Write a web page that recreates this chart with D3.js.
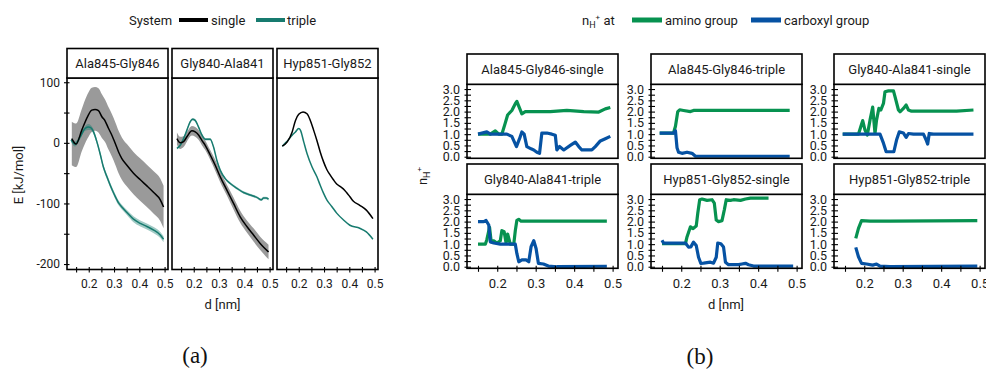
<!DOCTYPE html>
<html>
<head>
<meta charset="utf-8">
<script src="https://cdn.jsdelivr.net/npm/d3@7"></script>
<style>
  html, body { margin: 0; padding: 0; background: #fff; }
  svg { display: block; font-family: Roboto, "Noto Sans", sans-serif; }
</style>
</head>
<body>
<svg id="fig" width="986" height="374"></svg>
<script>
// ---------------- data: (a) interaction energy E [kJ/mol] vs distance d [nm] ----------------
const pairs = ["Ala845-Gly846", "Gly840-Ala841", "Hyp851-Gly852"];
const systems = ["single", "triple"];
const distTicks = [0.15, 0.2, 0.25, 0.3, 0.35, 0.4, 0.45, 0.5];
const energyTicks = [-200, -150, -100, -50, 0, 50, 100];

// Ala845-Gly846, single
const dAlaS  = [0.133, 0.150, 0.1725, 0.195, 0.212, 0.225, 0.2385, 0.252, 0.265, 0.278, 0.291, 0.305, 0.318, 0.331, 0.351, 0.377, 0.404, 0.430, 0.457, 0.483, 0.496];
const eAlaS  = [7, -2, 21, 43, 54, 55, 53, 43, 36, 24, 13, -1, -15, -26, -37, -50, -61, -71, -82, -94, -106];
const loAlaS = [-37, -40, -14, 7, 18, 20, 17, 8, 1, -11, -22, -36, -50, -61, -72, -85, -96, -106, -117, -129, -141];
const hiAlaS = [35, 32, 56, 80, 91, 92, 90, 80, 71, 59, 48, 34, 20, 9, -2, -15, -26, -36, -47, -59, -71];
// Ala845-Gly846, triple
const dAlaT  = [0.130, 0.146, 0.166, 0.186, 0.199, 0.208, 0.219, 0.232, 0.245, 0.258, 0.272, 0.285, 0.302, 0.318, 0.331, 0.351, 0.377, 0.404, 0.430, 0.457, 0.483, 0.496];
const eAlaT  = [5, -2, 10, 24, 26, 25, 18, 2, -18, -40, -56, -70, -86, -99, -106, -115, -126, -133, -138, -144, -152, -159];
const loAlaT = [1, -6, 6, 20, 21, 21, 14, -2, -22, -44, -60, -74, -90, -103, -110, -119, -131, -138, -143, -149, -157, -164];
const hiAlaT = [8, 2, 13, 28, 31, 29, 22, 6, -14, -36, -52, -66, -82, -95, -102, -111, -121, -128, -133, -139, -147, -154];
// Gly840-Ala841, single
const dGlyS  = [0.1335, 0.1466, 0.1598, 0.173, 0.1928, 0.2059, 0.2191, 0.2323, 0.2455, 0.2652, 0.285, 0.3047, 0.3311, 0.3574, 0.3838, 0.4101, 0.4365, 0.4629, 0.4958];
const eGlyS  = [7, 0, 2, 10, 20, 18, 13, 4, -4, -20, -37, -56, -78, -100, -122, -138, -152, -166, -180];
const loGlyS = [-3, -10, -7, 2, 12, 10, 5, -4, -12, -28, -46, -65, -87, -110, -132, -148, -163, -177, -192];
const hiGlyS = [17, 10, 11, 18, 28, 26, 21, 12, 4, -12, -28, -47, -69, -90, -112, -128, -141, -155, -168];
// Gly840-Ala841, triple
const dGlyT  = [0.1335, 0.1466, 0.1598, 0.173, 0.1862, 0.1954, 0.2059, 0.2191, 0.2323, 0.2455, 0.2652, 0.2784, 0.2916, 0.3047, 0.3245, 0.3443, 0.3706, 0.397, 0.4233, 0.4497, 0.4668, 0.476, 0.4866, 0.4958];
const eGlyT  = [-9, -4, 7, 21, 35, 39, 37, 26, 13, 6, 6, -7, -29, -45, -59, -67, -75, -82, -86, -90, -94, -91, -91, -93];
const loGlyT = [-11, -6, 5, 19, 33, 37, 35, 24, 11, 4, 4, -9, -31, -47, -61, -69, -77, -84, -88, -92, -96, -93, -93, -95];
const hiGlyT = [-7, -2, 9, 23, 37, 41, 39, 28, 15, 8, 8, -5, -27, -43, -57, -65, -73, -80, -84, -88, -92, -89, -89, -91];
// Hyp851-Gly852, single
const dHypS  = [0.135, 0.1545, 0.174, 0.1871, 0.2, 0.2171, 0.2327, 0.2458, 0.2588, 0.2718, 0.2849, 0.2979, 0.311, 0.324, 0.3371, 0.3501, 0.3632, 0.3762, 0.3892, 0.4023, 0.4153, 0.4413, 0.4674, 0.4935];
const eHypS  = [-5.5, 1.6, 18, 37, 47, 51, 48, 37, 21, 4, -15, -31, -44, -53, -61, -68, -72, -76, -82, -89, -96, -103, -111, -125];
// Hyp851-Gly852, triple
const dHypT  = [0.135, 0.1519, 0.174, 0.1871, 0.2, 0.2066, 0.2197, 0.2327, 0.2523, 0.2718, 0.2849, 0.2979, 0.311, 0.3306, 0.3501, 0.3762, 0.4023, 0.4413, 0.4674, 0.4935];
const eHypT  = [-5.5, 1.6, 12.6, 18, 23.6, 21, 1.6, -17.6, -39.5, -56, -70, -83, -94, -105, -116, -127, -136, -141, -147, -159];

// ---------------- data: (b) protons n_H+ at amino / carboxyl group ----------------
const protonTicks = [0, 0.25, 0.5, 0.75, 1, 1.25, 1.5, 1.75, 2, 2.25, 2.5, 2.75, 3];
const protonPanels = ["Ala845-Gly846-single", "Ala845-Gly846-triple", "Gly840-Ala841-single",
                      "Gly840-Ala841-triple", "Hyp851-Gly852-single", "Hyp851-Gly852-triple"];

const dAlaSAmino = [0.15, 0.182, 0.195, 0.204, 0.212, 0.221, 0.227, 0.238, 0.247, 0.251, 0.258, 0.264, 0.273, 0.295, 0.338, 0.381, 0.425, 0.464, 0.481, 0.494];
const nAlaSAmino = [1.0, 1.0, 1.15, 1.0, 1.0, 1.5, 1.85, 2.05, 2.35, 2.45, 2.15, 1.9, 2.0, 2.0, 2.0, 2.05, 2.0, 1.98, 2.12, 2.18];
const dAlaSCarb  = [0.15, 0.173, 0.182, 0.225, 0.238, 0.25, 0.258, 0.264, 0.27, 0.277, 0.288, 0.295, 0.303, 0.31, 0.316, 0.329, 0.342, 0.351, 0.355, 0.362, 0.373, 0.39, 0.403, 0.412, 0.42, 0.433, 0.446, 0.455, 0.468, 0.481, 0.494];
const nAlaSCarb  = [1.0, 1.1, 1.0, 1.0, 0.9, 0.45, 0.8, 1.1, 1.0, 0.45, 0.35, 0.3, 0.2, 0.15, 1.05, 1.05, 1.0, 0.95, 0.3, 0.45, 0.3, 0.5, 0.65, 0.45, 0.3, 0.3, 0.3, 0.45, 0.7, 0.8, 0.9];

const dAlaTAmino = [0.144, 0.18, 0.185, 0.191, 0.196, 0.206, 0.224, 0.232, 0.241, 0.482];
const nAlaTAmino = [1.05, 1.05, 1.35, 2.0, 2.08, 2.05, 2.0, 2.05, 2.05, 2.05];
const dAlaTCarb  = [0.144, 0.18, 0.185, 0.189, 0.193, 0.202, 0.215, 0.228, 0.237, 0.276, 0.482];
const nAlaTCarb  = [1.05, 1.05, 1.15, 0.4, 0.2, 0.15, 0.2, 0.15, 0.02, 0.02, 0.02];

const dGlySAmino = [0.144, 0.185, 0.191, 0.196, 0.202, 0.208, 0.215, 0.222, 0.228, 0.232, 0.238, 0.243, 0.25, 0.254, 0.263, 0.276, 0.28, 0.289, 0.293, 0.302, 0.309, 0.315, 0.323, 0.354, 0.44, 0.484];
const nGlySAmino = [1.0, 1.0, 1.33, 1.6, 1.18, 0.96, 1.62, 2.2, 1.03, 1.62, 2.14, 2.07, 2.36, 2.88, 2.92, 2.92, 2.66, 2.07, 1.99, 2.14, 2.29, 2.07, 2.02, 2.02, 2.02, 2.07];
const dGlySCarb  = [0.144, 0.241, 0.25, 0.257, 0.277, 0.284, 0.291, 0.302, 0.309, 0.315, 0.328, 0.354, 0.361, 0.365, 0.369, 0.38, 0.484];
const nGlySCarb  = [1.0, 1.0, 0.6, 0.22, 0.22, 0.74, 1.1, 1.05, 0.86, 1.03, 1.0, 1.0, 0.74, 0.56, 1.03, 1.0, 1.0];

const dGlyTAmino = [0.15, 0.169, 0.173, 0.18, 0.184, 0.191, 0.199, 0.208, 0.212, 0.218, 0.223, 0.227, 0.234, 0.243, 0.247, 0.251, 0.256, 0.262, 0.485];
const nGlyTAmino = [1.0, 1.0, 1.2, 1.75, 1.15, 1.15, 1.05, 1.15, 1.6, 1.55, 1.05, 1.45, 1.0, 1.0, 1.6, 2.05, 2.1, 2.02, 2.02];
const dGlyTCarb  = [0.15, 0.165, 0.171, 0.178, 0.182, 0.191, 0.208, 0.243, 0.247, 0.251, 0.256, 0.264, 0.275, 0.282, 0.288, 0.295, 0.301, 0.307, 0.32, 0.333, 0.355, 0.485];
const nGlyTCarb  = [2.0, 2.0, 2.05, 1.85, 1.1, 1.05, 1.0, 1.0, 1.0, 0.59, 0.22, 0.3, 0.3, 0.22, 0.89, 1.15, 0.81, 0.15, 0.12, 0.03, 0.0, 0.02];

const dHypSAmino = [0.15, 0.172, 0.211, 0.215, 0.224, 0.231, 0.239, 0.243, 0.248, 0.254, 0.267, 0.28, 0.286, 0.291, 0.297, 0.306, 0.312, 0.317, 0.328, 0.336, 0.354, 0.367, 0.38, 0.406, 0.427];
const nHypSAmino = [1.02, 1.02, 1.02, 1.32, 1.77, 1.69, 1.8, 2.37, 2.97, 3.0, 2.94, 2.97, 2.82, 2.07, 2.0, 2.04, 2.52, 2.97, 2.94, 2.97, 2.94, 3.0, 3.04, 3.04, 3.04];
const dHypSCarb  = [0.15, 0.154, 0.172, 0.211, 0.219, 0.225, 0.232, 0.239, 0.245, 0.251, 0.258, 0.276, 0.284, 0.291, 0.295, 0.303, 0.31, 0.315, 0.323, 0.336, 0.349, 0.358, 0.367, 0.375, 0.388, 0.491];
const nHypSCarb  = [1.17, 1.05, 1.05, 1.05, 0.87, 0.88, 1.09, 0.94, 0.42, 0.15, 0.16, 0.2, 0.16, 0.42, 1.05, 1.02, 0.87, 0.2, 0.09, 0.09, 0.09, 0.12, 0.15, 0.09, 0.03, 0.03];

const dHypTAmino = [0.178, 0.185, 0.193, 0.215, 0.267, 0.494];
const nHypTAmino = [1.26, 1.7, 2.04, 2.02, 2.02, 2.04];
const dHypTCarb  = [0.178, 0.185, 0.193, 0.206, 0.222, 0.232, 0.241, 0.267, 0.494];
const nHypTCarb  = [0.86, 0.44, 0.15, 0.12, 0.07, 0.12, 0.03, 0.0, 0.03];

// ---------------- styling ----------------
const COL_SINGLE = "#000000";
const COL_TRIPLE = "#177b6f";
const COL_BAND_SINGLE = "#9a9a9a";
const COL_AMINO = "#079250";
const COL_CARB = "#0652a3";
const TXT = "#1a1a1a";

const zip = (xs, ys) => xs.map((x, i) => [x, ys[i]]);
const zip3 = (xs, lo, hi) => xs.map((x, i) => [x, lo[i], hi[i]]);

const energySeries = [
  { pair: 0, sys: "single", pts: zip(dAlaS, eAlaS), band: zip3(dAlaS, loAlaS, hiAlaS) },
  { pair: 0, sys: "triple", pts: zip(dAlaT, eAlaT), band: zip3(dAlaT, loAlaT, hiAlaT) },
  { pair: 1, sys: "single", pts: zip(dGlyS, eGlyS), band: zip3(dGlyS, loGlyS, hiGlyS) },
  { pair: 1, sys: "triple", pts: zip(dGlyT, eGlyT), band: zip3(dGlyT, loGlyT, hiGlyT) },
  { pair: 2, sys: "single", pts: zip(dHypS, eHypS), band: null },
  { pair: 2, sys: "triple", pts: zip(dHypT, eHypT), band: null }
];

const protonSeries = [
  [zip(dAlaSAmino, nAlaSAmino), zip(dAlaSCarb, nAlaSCarb)],
  [zip(dAlaTAmino, nAlaTAmino), zip(dAlaTCarb, nAlaTCarb)],
  [zip(dGlySAmino, nGlySAmino), zip(dGlySCarb, nGlySCarb)],
  [zip(dGlyTAmino, nGlyTAmino), zip(dGlyTCarb, nGlyTCarb)],
  [zip(dHypSAmino, nHypSAmino), zip(dHypSCarb, nHypSCarb)],
  [zip(dHypTAmino, nHypTAmino), zip(dHypTCarb, nHypTCarb)]
];

const svg = d3.select("#fig");

function styleAxis(g, size) {
  g.select(".domain").remove();
  g.attr("font-family", null).attr("font-size", null);
  g.selectAll("text").attr("fill", TXT).attr("font-size", size);
}
const distFormat = v => (Math.round(v * 100) % 10 === 0 ? v.toFixed(1) : "");

// ---------------- (a) energy profiles ----------------
const aLeft = [67, 172, 277], aW = 101;
const aStripTop = 48.5, aStripH = 29.5, aPlotTop = aStripTop + aStripH, aPlotBottom = 269.5;
const yA = d3.scaleLinear().domain([-209, 107]).range([aPlotBottom, aPlotTop]);

pairs.forEach((name, p) => {
  const x0 = aLeft[p];
  const xA = d3.scaleLinear().domain([0.114, 0.5135]).range([x0, x0 + aW]);
  const g = svg.append("g");

  const area = d3.area().x(d => xA(d[0])).y0(d => yA(d[1])).y1(d => yA(d[2])).curve(d3.curveMonotoneX);
  const line = d3.line().x(d => xA(d[0])).y(d => yA(d[1])).curve(d3.curveMonotoneX);
  const ser = energySeries.filter(s => s.pair === p);

  ser.forEach(s => {
    if (!s.band) return;
    g.append("path").attr("d", area(s.band))
      .attr("fill", s.sys === "single" ? COL_BAND_SINGLE : COL_TRIPLE)
      .attr("fill-opacity", s.sys === "single" ? 1 : 0.4);
  });
  // triple drawn first, single on top
  [...ser].reverse().forEach(s => {
    g.append("path").attr("d", line(s.pts)).attr("fill", "none")
      .attr("stroke", s.sys === "single" ? COL_SINGLE : COL_TRIPLE)
      .attr("stroke-width", 1.5).attr("stroke-linejoin", "round");
  });

  // panel frame + strip
  g.append("rect").attr("x", x0).attr("y", aPlotTop).attr("width", aW).attr("height", aPlotBottom - aPlotTop)
    .attr("fill", "none").attr("stroke", "#000").attr("stroke-width", 1.6);
  g.append("rect").attr("x", x0).attr("y", aStripTop).attr("width", aW).attr("height", aStripH)
    .attr("fill", "#fff").attr("stroke", "#000").attr("stroke-width", 1.6);
  g.append("text").attr("x", x0 + aW / 2).attr("y", aStripTop + aStripH / 2 + 4.6)
    .attr("text-anchor", "middle").attr("font-size", 13).attr("fill", TXT).text(name);

  // x axis
  const gx = g.append("g").attr("transform", `translate(0,${aPlotBottom})`)
    .call(d3.axisBottom(xA).tickValues(distTicks).tickSize(0).tickPadding(10).tickFormat(distFormat));
  styleAxis(gx, 12);
  gx.selectAll(".tick").append("line").attr("y1", -2.5).attr("y2", 3).attr("stroke", "#000").attr("stroke-width", 1.1);

  if (p === 0) {
    const gy = g.append("g").attr("transform", `translate(${x0},0)`)
      .call(d3.axisLeft(yA).tickValues(energyTicks).tickSize(0).tickPadding(7)
        .tickFormat(v => (v % 100 === 0 ? String(v) : "")));
    styleAxis(gy, 12);
    gy.selectAll(".tick").append("line").attr("x1", -3).attr("x2", 2.5).attr("stroke", "#000").attr("stroke-width", 1.1);
  }
});

svg.append("text").attr("transform", "translate(23,175) rotate(-90)").attr("text-anchor", "middle")
  .attr("font-size", 13).attr("fill", TXT).text("E [kJ/mol]");
svg.append("text").attr("x", 222.5).attr("y", 308.5).attr("text-anchor", "middle")
  .attr("font-size", 13).attr("fill", TXT).text("d [nm]");

// legend (a)
const legA = svg.append("g").attr("font-size", 13).attr("fill", TXT);
legA.append("text").attr("x", 129).attr("y", 24.5).text("System");
legA.append("line").attr("x1", 179).attr("x2", 208).attr("y1", 20).attr("y2", 20).attr("stroke", COL_SINGLE).attr("stroke-width", 4);
legA.append("text").attr("x", 211).attr("y", 24.5).text(systems[0]);
legA.append("line").attr("x1", 256).attr("x2", 285).attr("y1", 20).attr("y2", 20).attr("stroke", COL_TRIPLE).attr("stroke-width", 4);
legA.append("text").attr("x", 287).attr("y", 24.5).text(systems[1]);

// ---------------- (b) proton counts ----------------
const bLeft = [467, 651, 834], bW = 151;
const bRowTop = [54, 164], bStripH = 30.3, bPlotH = 74;
const xB = x0 => d3.scaleLinear().domain([0.1214, 0.514]).range([x0, x0 + bW]);

protonPanels.forEach((name, i) => {
  const row = Math.floor(i / 3), col = i % 3;
  const x0 = bLeft[col], st = bRowTop[row], pt = st + bStripH, pb = pt + bPlotH;
  const xs = xB(x0);
  const ys = d3.scaleLinear().domain([-0.07, 3.21]).range([pb, pt]);
  const g = svg.append("g");
  const line = d3.line().x(d => xs(d[0])).y(d => ys(d[1]));

  const [amino, carb] = protonSeries[i];
  g.append("path").attr("d", line(amino)).attr("fill", "none").attr("stroke", COL_AMINO)
    .attr("stroke-width", 3.2).attr("stroke-linejoin", "round").attr("stroke-linecap", "butt");
  g.append("path").attr("d", line(carb)).attr("fill", "none").attr("stroke", COL_CARB)
    .attr("stroke-width", 3.2).attr("stroke-linejoin", "round").attr("stroke-linecap", "butt");

  g.append("rect").attr("x", x0).attr("y", pt).attr("width", bW).attr("height", bPlotH)
    .attr("fill", "none").attr("stroke", "#000").attr("stroke-width", 1.6);
  g.append("rect").attr("x", x0).attr("y", st).attr("width", bW).attr("height", bStripH)
    .attr("fill", "#fff").attr("stroke", "#000").attr("stroke-width", 1.6);
  g.append("text").attr("x", x0 + bW / 2).attr("y", st + bStripH / 2 + 4.7)
    .attr("text-anchor", "middle").attr("font-size", 13).attr("fill", TXT).text(name);

  const gy = g.append("g").attr("transform", `translate(${x0},0)`)
    .call(d3.axisLeft(ys).tickValues(protonTicks).tickSize(0).tickPadding(7)
      .tickFormat(v => (Math.round(v * 100) % 50 === 0 ? v.toFixed(1) : "")));
  styleAxis(gy, 12.5);
  gy.selectAll(".tick").append("line").attr("x1", -2.5).attr("x2", 4).attr("stroke", "#000").attr("stroke-width", 1.1);

  if (row === 1) {
    const gx = g.append("g").attr("transform", `translate(0,${pb})`)
      .call(d3.axisBottom(xs).tickValues(distTicks).tickSize(0).tickPadding(10).tickFormat(distFormat));
    styleAxis(gx, 13);
    gx.selectAll(".tick").append("line").attr("y1", -2.5).attr("y2", 3.5).attr("stroke", "#000").attr("stroke-width", 1.1);
  }
});

// y title n_H+
const yTitleB = svg.append("text").attr("transform", "translate(427,176) rotate(-90)")
  .attr("text-anchor", "middle").attr("font-size", 13).attr("fill", TXT);
yTitleB.append("tspan").text("n");
yTitleB.append("tspan").attr("font-size", 9).attr("dy", 3).text("H");
yTitleB.append("tspan").attr("font-size", 8).attr("dy", -8).text("+");

svg.append("text").attr("x", 726).attr("y", 308.5).attr("text-anchor", "middle")
  .attr("font-size", 13).attr("fill", TXT).text("d [nm]");

// legend (b)
const legB = svg.append("g").attr("font-size", 13).attr("fill", TXT);
const lt = legB.append("text").attr("x", 582).attr("y", 24.5);
lt.append("tspan").text("n");
lt.append("tspan").attr("font-size", 9).attr("dy", 3).text("H");
lt.append("tspan").attr("font-size", 8).attr("dy", -8).text("+");
lt.append("tspan").attr("font-size", 13).attr("dy", 5).text(" at");
legB.append("line").attr("x1", 632).attr("x2", 662).attr("y1", 20).attr("y2", 20).attr("stroke", COL_AMINO).attr("stroke-width", 5);
legB.append("text").attr("x", 665).attr("y", 24.5).text("amino group");
legB.append("line").attr("x1", 751).attr("x2", 781).attr("y1", 20).attr("y2", 20).attr("stroke", COL_CARB).attr("stroke-width", 5);
legB.append("text").attr("x", 784).attr("y", 24.5).text("carboxyl group");

// sub-figure captions
svg.append("text").attr("x", 195).attr("y", 363).attr("text-anchor", "middle")
  .attr("font-family", "'Liberation Serif', 'DejaVu Serif', serif").attr("font-size", 23).attr("fill", "#111").text("(a)");
svg.append("text").attr("x", 700).attr("y", 364).attr("text-anchor", "middle")
  .attr("font-family", "'Liberation Serif', 'DejaVu Serif', serif").attr("font-size", 23).attr("fill", "#111").text("(b)");
</script>
</body>
</html>
